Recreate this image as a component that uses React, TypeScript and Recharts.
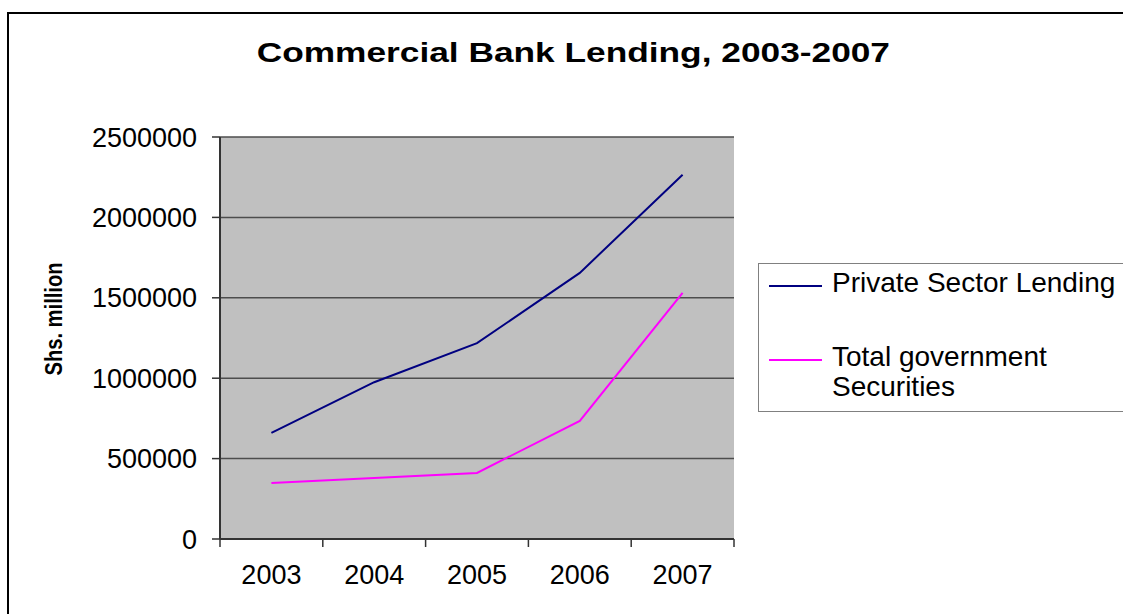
import { LineChart, Line, XAxis, YAxis, CartesianGrid } from "recharts";

const years = ["2003", "2004", "2005", "2006", "2007"];
const privateLending = [660000, 975000, 1218000, 1655000, 2265000];
const govSecurities = [348000, 380000, 411000, 734000, 1531000];
const yTicks = [0, 500000, 1000000, 1500000, 2000000, 2500000];
const seriesKeys = ["privateLending", "govSecurities"];
const seriesNames = ["Private Sector Lending", "Total government Securities"];
const seriesColors = ["#000080", "#FF00FF"];

// categories sit at band centres, tick marks sit on band boundaries (Excel style)
const data = years.map((year, i) => ({
  pos: i + 0.5,
  year,
  privateLending: privateLending[i],
  govSecurities: govSecurities[i],
}));
const boundaryTicks = [0, ...years.map((_, i) => i + 1)];

const FONT = "'Liberation Sans', Arial, sans-serif";

// label goes half a band to the right of its boundary tick
function YearTick(props: any) {
  const { x, y, payload, width } = props;
  const i = payload.value as number;
  if (i >= years.length) return null;
  const half = (width ?? 0) / years.length / 2;
  return (
    <text
      x={x + half}
      y={y}
      dy="0.71em"
      textAnchor="middle"
      fill="#000"
      fontSize={27}
      fontFamily={FONT}
    >
      {years[i]}
    </text>
  );
}

export default function App() {
  return (
    <div
      style={{
        position: "absolute",
        left: 0,
        top: 0,
        width: 1123,
        height: 614,
        overflow: "hidden",
        background: "#fff",
        fontFamily: FONT,
      }}
    >
      {/* outer chart-area frame, cropped on the right and bottom */}
      <div
        style={{
          position: "absolute",
          left: 7,
          top: 12,
          width: 1200,
          height: 700,
          border: "2px solid #000",
          boxSizing: "border-box",
        }}
      />

      <div
        style={{
          position: "absolute",
          left: 0,
          width: 1146,
          top: 35,
          textAlign: "center",
          fontSize: 28,
          fontWeight: "bold",
          lineHeight: "36px",
          color: "#000",
        }}
      >
        <span style={{ display: "inline-block", transform: "scaleX(1.26)" }}>
          Commercial Bank Lending, 2003-2007
        </span>
      </div>

      <div
        style={{
          position: "absolute",
          left: 54,
          top: 319,
          transform: "translate(-50%, -50%) rotate(-90deg) scaleX(0.84)",
          fontSize: 24,
          fontWeight: "bold",
          whiteSpace: "nowrap",
          color: "#000",
        }}
      >
        Shs. million
      </div>

      <div style={{ position: "absolute", left: 0, top: 0 }}>
        <LineChart
          width={1123}
          height={614}
          data={data}
          margin={{ top: 137, right: 389, bottom: 35, left: 20 }}
        >
          <CartesianGrid
            vertical={false}
            fill="#C0C0C0"
            fillOpacity={1}
            stroke="#4d4d4d"
            strokeWidth={1.5}
          />
          <XAxis
            dataKey="pos"
            type="number"
            domain={[0, 5]}
            ticks={boundaryTicks}
            interval={0}
            height={40}
            tickSize={8}
            tickMargin={18}
            tick={<YearTick />}
            tickLine={{ stroke: "#333", strokeWidth: 1.5 }}
            axisLine={{ stroke: "#333", strokeWidth: 2 }}
          />
          <YAxis
            domain={[0, 2500000]}
            ticks={yTicks}
            width={200}
            tickSize={8}
            tickMargin={15}
            interval={0}
            tickLine={{ stroke: "#333", strokeWidth: 1.5 }}
            axisLine={{ stroke: "#333", strokeWidth: 2 }}
            tick={{ fill: "#000", fontSize: 27, fontFamily: FONT }}
          />
          <YAxis
            yAxisId="frame"
            orientation="right"
            width={0}
            tick={false}
            tickLine={false}
            axisLine={{ stroke: "#808080", strokeWidth: 2 }}
          />
          {seriesKeys.map((key, i) => (
            <Line
              key={key}
              dataKey={key}
              type="linear"
              stroke={seriesColors[i]}
              strokeWidth={2}
              dot={false}
              isAnimationActive={false}
            />
          ))}
        </LineChart>
      </div>

      {/* legend box, cropped by the right edge like the reference */}
      <div
        style={{
          position: "absolute",
          left: 758,
          top: 263,
          width: 420,
          height: 149,
          border: "1px solid #808080",
          boxSizing: "border-box",
          background: "#fff",
        }}
      >
        {seriesNames.map((name, i) => (
          <div
            key={name}
            style={{ position: "absolute", left: 0, top: 4 + i * 74 }}
          >
            <div
              style={{
                position: "absolute",
                left: 10,
                top: 17,
                width: 53,
                height: 2,
                background: seriesColors[i],
              }}
            />
            <div
              style={{
                position: "absolute",
                left: 73,
                top: 0,
                width: 300,
                fontSize: 28,
                lineHeight: "30px",
                color: "#000",
              }}
            >
              {name}
            </div>
          </div>
        ))}
      </div>
    </div>
  );
}
